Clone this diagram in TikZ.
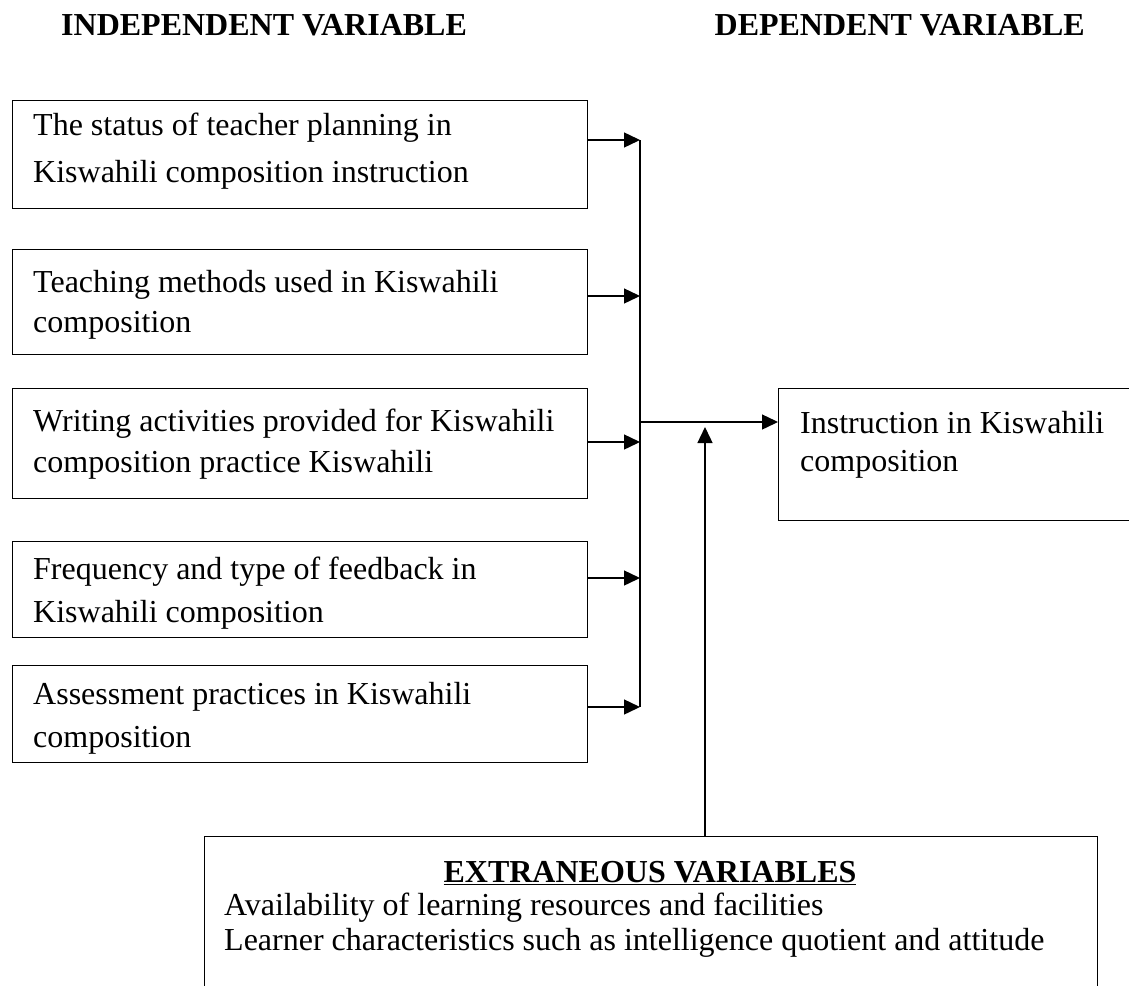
\documentclass[tikz,border=0pt]{standalone}
\usepackage{fontspec}
\setmainfont{Liberation Serif}
\usetikzlibrary{arrows.meta}
\begin{document}
\begin{tikzpicture}[x=1pt,y=-1pt,
  every node/.style={font=\fontsize{32}{37}\selectfont, inner sep=0pt},
  box/.style={draw, line width=1.3pt, rectangle, anchor=north west},
  txt/.style={anchor=base west},
  ttl/.style={font=\fontsize{32}{37}\selectfont\bfseries},
  link/.style={line width=1.4pt},
  arr/.style={line width=1.4pt, -{Triangle[length=16pt,width=15pt]}},
]
\clip (0,0) rectangle (1129,985);
\fill[white] (0,0) rectangle (1129,985);
% titles
\node[ttl, anchor=base west] (tind) at (61,35) {INDEPENDENT VARIABLE};
\node[ttl, anchor=base east] (tdep) at (1085,35) {DEPENDENT VARIABLE};
% left boxes
\node[box, minimum width=575pt, minimum height=108pt] (b1) at (12,100) {};
\node[box, minimum width=575pt, minimum height=105pt] (b2) at (12,249) {};
\node[box, minimum width=575pt, minimum height=110pt] (b3) at (12,388) {};
\node[box, minimum width=575pt, minimum height=96pt] (b4) at (12,541) {};
\node[box, minimum width=575pt, minimum height=97pt] (b5) at (12,665) {};
% dependent box
\node[box, minimum width=420pt, minimum height=132pt] (dep) at (778,388) {};
% extraneous box
\node[box, minimum width=893pt, minimum height=220pt] (ext) at (204,836) {};
% texts
\node[txt] (t1a) at (33,135) {The status of teacher planning in};
\node[txt] (t1b) at (33,182) {Kiswahili composition instruction};
\node[txt] (t2a) at (33,292) {Teaching methods used in Kiswahili};
\node[txt] (t2b) at (33,332) {composition};
\node[txt] (t3a) at (33,431) {Writing activities provided for Kiswahili};
\node[txt] (t3b) at (33,472) {composition practice Kiswahili};
\node[txt] (t4a) at (33,579) {Frequency and type of feedback in};
\node[txt] (t4b) at (33,622) {Kiswahili composition};
\node[txt] (t5a) at (33,704) {Assessment practices in Kiswahili};
\node[txt] (t5b) at (33,747) {composition};
\node[txt] (d1) at (800,433) {Instruction in Kiswahili};
\node[txt] (d2) at (800,471) {composition};
\node[ttl, anchor=base] (extt) at (650,882) {\underline{EXTRANEOUS VARIABLES}};
\node[txt] (e1) at (224,915) {Availability of learning resources and facilities};
\node[txt] (e2) at (224,950) {Learner characteristics such as intelligence quotient and attitude};
% connectors
\coordinate (j1) at (640,140);
\coordinate (j2) at (640,296);
\coordinate (j3) at (640,442);
\coordinate (j4) at (640,578);
\coordinate (j5) at (640,707);
\draw[arr] (b1.east |- j1) -- (j1);
\draw[arr] (b2.east |- j2) -- (j2);
\draw[arr] (b3.east |- j3) -- (j3);
\draw[arr] (b4.east |- j4) -- (j4);
\draw[arr] (b5.east |- j5) -- (j5);
\draw[link] (j1) -- (j5);
\coordinate (jm) at (640,422);
\draw[arr] (jm) -- (dep.west |- jm);
\coordinate (vt) at (705,427);
\draw[arr] (ext.north -| vt) -- (vt);
\end{tikzpicture}
\end{document}
